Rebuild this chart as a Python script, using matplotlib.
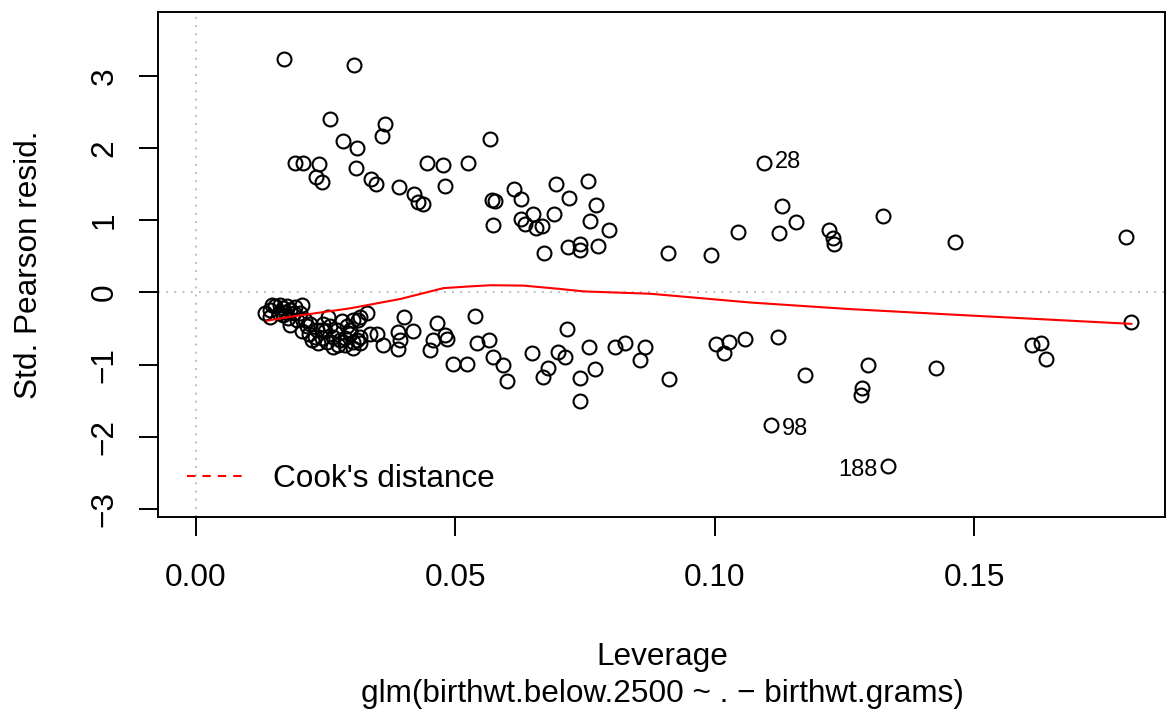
import matplotlib
matplotlib.use('Agg')
import matplotlib.pyplot as plt

plt.rcParams['font.family'] = ['Liberation Sans', 'DejaVu Sans']

# leverage / std. pearson residual
lev = [0.0170, 0.0304, 0.0258, 0.0364, 0.0358, 0.0283, 0.0311, 0.0567, 0.0191, 0.0207,
       0.0237, 0.0446, 0.0477, 0.0524, 0.0231, 0.0243, 0.0309, 0.0338, 0.0347, 0.0391,
       0.0479, 0.0421, 0.0427, 0.0438, 0.0570, 0.0576, 0.0572, 0.0613, 0.0627, 0.0693,
       0.0719, 0.0755, 0.0771, 0.0649, 0.0691, 0.0627, 0.0635, 0.0655, 0.0666, 0.0760,
       0.0796, 0.0671, 0.0717, 0.0740, 0.0740, 0.0774, 0.0909, 0.0993, 0.1044, 0.1095,
       0.1130, 0.1124, 0.1156, 0.1220, 0.1227, 0.1230, 0.1324, 0.1463, 0.1792,
       0.1803, 0.1121, 0.1173, 0.1296, 0.1283, 0.1281, 0.1427, 0.1612, 0.1629, 0.1639,
       0.1109, 0.1334,
       0.0538, 0.0541, 0.0565, 0.0573, 0.0591, 0.0600, 0.0496, 0.0522, 0.0647, 0.0678,
       0.0669, 0.0697, 0.0711, 0.0716, 0.0740, 0.0740, 0.0758, 0.0769, 0.0807, 0.0826,
       0.0866, 0.0855, 0.0911, 0.1002, 0.1028, 0.1017, 0.1058,
       0.0400, 0.0465, 0.0419, 0.0390, 0.0348, 0.0393, 0.0361, 0.0390, 0.0451, 0.0457,
       0.0480, 0.0483, 0.0329, 0.0313, 0.0316, 0.0316, 0.0316, 0.0310, 0.0335, 0.0297,
       0.0303,
       0.0133, 0.0143, 0.0152, 0.0162, 0.0168, 0.0175, 0.0181, 0.0159, 0.0168, 0.0188,
       0.0204, 0.0200, 0.0178, 0.0194, 0.0210, 0.0220, 0.0204, 0.0217, 0.0233, 0.0245,
       0.0255, 0.0258, 0.0229, 0.0242, 0.0252, 0.0265, 0.0271, 0.0278, 0.0287, 0.0297,
       0.0303, 0.0291, 0.0265, 0.0236, 0.0213, 0.0249, 0.0281, 0.0143, 0.0191, 0.0303,
       0.0181, 0.0224, 0.0274, 0.0243, 0.0287, 0.0172, 0.0147]
rsp = [3.24, 3.15, 2.40, 2.33, 2.17, 2.10, 2.00, 2.13, 1.80, 1.80,
       1.78, 1.79, 1.77, 1.79, 1.60, 1.53, 1.72, 1.57, 1.50, 1.46,
       1.47, 1.37, 1.25, 1.23, 1.28, 1.26, 0.94, 1.43, 1.30, 1.50,
       1.31, 1.55, 1.21, 1.09, 1.08, 1.02, 0.95, 0.89, 0.92, 0.99,
       0.86, 0.55, 0.63, 0.67, 0.59, 0.64, 0.54, 0.52, 0.84, 1.79,
       1.20, 0.82, 0.97, 0.87, 0.76, 0.67, 1.06, 0.70, 0.77,
       -0.41, -0.62, -1.14, -1.01, -1.32, -1.42, -1.04, -0.73, -0.70, -0.92,
       -1.84, -2.40,
       -0.33, -0.70, -0.66, -0.89, -1.00, -1.22, -0.99, -0.99, -0.84, -1.04,
       -1.17, -0.83, -0.89, -0.51, -1.19, -1.51, -0.75, -1.06, -0.75, -0.70,
       -0.75, -0.94, -1.20, -0.72, -0.69, -0.84, -0.64,
       -0.34, -0.42, -0.54, -0.55, -0.57, -0.66, -0.73, -0.78, -0.80, -0.66,
       -0.59, -0.64, -0.29, -0.38, -0.34, -0.61, -0.70, -0.66, -0.57, -0.52,
       -0.38,
       -0.29, -0.24, -0.19, -0.17, -0.22, -0.19, -0.24, -0.29, -0.31, -0.29,
       -0.17, -0.29, -0.36, -0.38, -0.38, -0.43, -0.54, -0.57, -0.52, -0.43,
       -0.34, -0.47, -0.61, -0.63, -0.68, -0.61, -0.52, -0.66, -0.73, -0.57,
       -0.68, -0.47, -0.75, -0.70, -0.47, -0.54, -0.40, -0.34, -0.20, -0.77,
       -0.45, -0.66, -0.73, -0.52, -0.63, -0.27, -0.17]

# smoother (red line)
smooth_lev = [0.0137, 0.0188, 0.0297, 0.0394, 0.0438, 0.0477, 0.0530, 0.0568, 0.0631,
              0.0700, 0.0747, 0.0876, 0.1070, 0.1260, 0.1456, 0.1803]
smooth_res = [-0.39, -0.33, -0.22, -0.09, -0.01, 0.06, 0.085, 0.10, 0.095,
              0.05, 0.015, -0.018, -0.14, -0.23, -0.306, -0.435]

# labelled observations
id_text = ['28', '98', '188']
id_lev = [0.1095, 0.1109, 0.1334]
id_res = [1.79, -1.84, -2.40]
id_side = ['right', 'right', 'left']

fig = plt.figure(figsize=(11.66, 7.13), dpi=100)
ax = fig.add_axes([0.1351, 0.2745, 0.8641, 0.7087])

ax.axhline(0, color='#BEBEBE', lw=1.4, dashes=(1, 3.2), zorder=1)
ax.axvline(0, color='#BEBEBE', lw=1.4, dashes=(1, 3.2), zorder=1)

ax.plot(lev, rsp, 'o', ms=10, mfc='none', mec='black', mew=1.5, zorder=3)
ax.plot(smooth_lev, smooth_res, color='red', lw=1.5, zorder=4)

for t, x, y, side in zip(id_text, id_lev, id_res, id_side):
    if side == 'right':
        ax.annotate(t, (x, y), xytext=(7.5, -3 if y < 0 else 1), textcoords='offset points',
                    ha='left', va='center', fontsize=17)
    else:
        ax.annotate(t, (x, y), xytext=(-7.5, -3), textcoords='offset points',
                    ha='right', va='center', fontsize=17)

ax.set_xlim(-0.00742, 0.1868)
ax.set_ylim(-3.114, 3.885)
ax.set_xticks([0.00, 0.05, 0.10, 0.15])
ax.set_xticklabels(['0.00', '0.05', '0.10', '0.15'])
ax.set_yticks([-3, -2, -1, 0, 1, 2, 3])

for s in ax.spines.values():
    s.set_linewidth(1.4)
ax.tick_params(length=13.7, width=1.4, labelsize=22.7, direction='out')
ax.tick_params(axis='x', pad=19)
ax.tick_params(axis='y', pad=13.5, labelrotation=90)
for lb in ax.get_yticklabels():
    lb.set_va('center')

ax.plot([], [], color='red', lw=1.5, dashes=(4, 3.4), label="Cook's distance")
ax.legend(loc='center left', bbox_to_anchor=(0.029, 0.0752), frameon=False,
          fontsize=22.7, handlelength=1.8, handletextpad=0.95,
          borderpad=0, borderaxespad=0)

fig.text(0.5678, 0.0673, 'Leverage', ha='center', va='baseline', fontsize=22.7)
fig.text(0.5678, 0.0154, 'glm(birthwt.below.2500 ~ . \u2212 birthwt.grams)',
         ha='center', va='baseline', fontsize=22.7)
fig.text(0.0317, 0.6288, 'Std. Pearson resid.', rotation=90, rotation_mode='anchor',
         ha='center', va='baseline', fontsize=22.7)

fig.savefig('out.png', dpi=100)
